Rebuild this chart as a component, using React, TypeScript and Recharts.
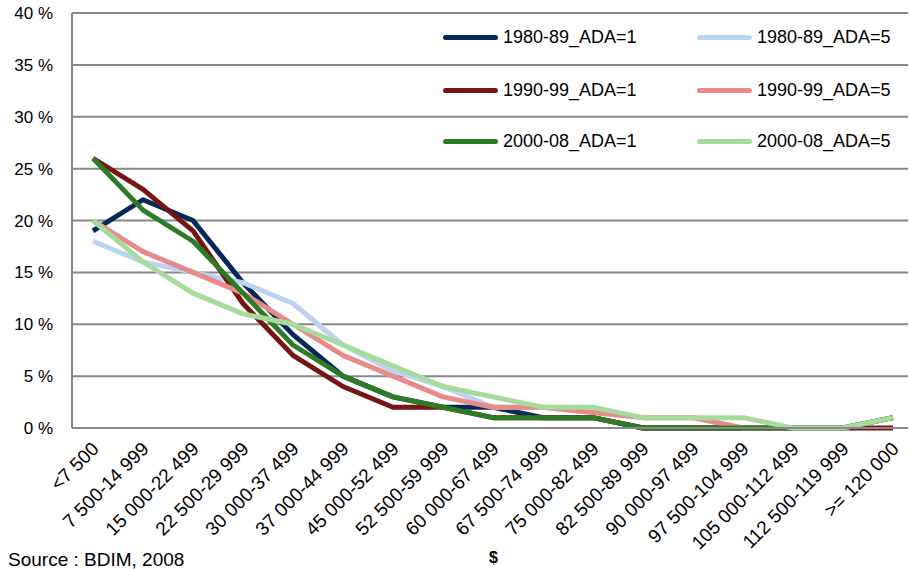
import React from 'react';
import { LineChart, Line, XAxis, YAxis, CartesianGrid, Legend } from 'recharts';

const categories = [
  '<7 500', '7 500-14 999', '15 000-22 499', '22 500-29 999', '30 000-37 499',
  '37 000-44 999', '45 000-52 499', '52 500-59 999', '60 000-67 499', '67 500-74 999',
  '75 000-82 499', '82 500-89 999', '90 000-97 499', '97 500-104 999', '105 000-112 499',
  '112 500-119 999', '>= 120 000',
];

const s1980_1 = [19, 22, 20, 14, 9, 5, 3, 2, 2, 1, 1, 0, 0, 0, 0, 0, 1];
const s1980_5 = [18, 16, 15, 14, 12, 8, 5.5, 4, 2, 2, 1.5, 1, 1, 0, 0, 0, 1];
const s1990_1 = [26, 23, 19, 12, 7, 4, 2, 2, 1, 1, 1, 0, 0, 0, 0, 0, 0];
const s1990_5 = [20, 17, 15, 13, 10, 7, 5, 3, 2, 2, 1.5, 1, 1, 0, 0, 0, 1];
const s2000_1 = [26, 21, 18, 13, 8, 5, 3, 2, 1, 1, 1, 0, 0, 0, 0, 0, 1];
const s2000_5 = [20, 16, 13, 11, 10, 8, 6, 4, 3, 2, 2, 1, 1, 1, 0, 0, 1];

const yTicks = [0, 5, 10, 15, 20, 25, 30, 35, 40];

const seriesNames = ['1980-89_ADA=1', '1980-89_ADA=5', '1990-99_ADA=1', '1990-99_ADA=5', '2000-08_ADA=1', '2000-08_ADA=5'];
const seriesKeys = ['a', 'b', 'c', 'd', 'e', 'f'];
const seriesValues = [s1980_1, s1980_5, s1990_1, s1990_5, s2000_1, s2000_5];
const seriesColors = ['#03295a', '#bdd3f2', '#781413', '#e88a8a', '#2e7b27', '#a5dc9c'];

const data = categories.map((c, i) => {
  const row: any = { name: c };
  seriesKeys.forEach((k, j) => { row[k] = seriesValues[j][i]; });
  return row;
});

const FONT = '"Liberation Sans", Arial, sans-serif';

const XTick = (props: any) => {
  const { x, y, payload } = props;
  return (
    <g transform={`translate(${x + 7},${y + 22})`}>
      <text x={0} y={0} textAnchor="end" transform="rotate(-45)" fontSize={19} fontFamily={FONT} fill="#000">
        {payload.value}
      </text>
    </g>
  );
};

const renderLegend = () => {
  const colX = [443, 697];
  const rowY = [37, 90, 141];
  return (
    <div style={{ position: 'relative', width: 0, height: 0 }}>
      {seriesNames.map((n, i) => {
        const col = i % 2;
        const row = Math.floor(i / 2);
        return (
          <div key={n} style={{ position: 'absolute', left: colX[col], top: rowY[row] - 11, height: 22, display: 'flex', alignItems: 'center', whiteSpace: 'nowrap' }}>
            <div style={{ width: 55, height: 5, borderRadius: 3, background: seriesColors[i] }} />
            <span style={{ marginLeft: 5, fontSize: 18, fontFamily: FONT, color: '#000' }}>{n}</span>
          </div>
        );
      })}
    </div>
  );
};

export default function App() {
  return (
    <div style={{ position: 'absolute', left: 0, top: 0, width: 909, height: 569, background: '#fff', overflow: 'hidden' }}>
      <LineChart width={909} height={569} data={data} margin={{ top: 13, right: 1, left: 0, bottom: 0 }}>
        <CartesianGrid vertical={false} stroke="#888888" strokeWidth={2} />
        <XAxis
          dataKey="name"
          interval={0}
          height={141}
          padding={{ left: 21, right: 15 }}
          tickLine={false}
          tickSize={0}
          tickMargin={0}
          axisLine={{ stroke: '#888888', strokeWidth: 2 }}
          tick={<XTick />}
        />
        <YAxis
          width={72}
          domain={[0, 40]}
          ticks={yTicks}
          interval={0}
          tickLine={false}
          tickSize={0}
          tickMargin={19}
          axisLine={{ stroke: '#888888', strokeWidth: 2 }}
          tickFormatter={(v: number) => `${v} %`}
          tick={{ fontSize: 17, fontFamily: FONT, fill: '#000' }}
        />
        <Legend content={renderLegend} wrapperStyle={{ position: 'absolute', left: 0, top: 0, width: 0, height: 0 }} />
        {seriesKeys.map((k, j) => (
          <Line
            key={k}
            type="linear"
            dataKey={k}
            name={seriesNames[j]}
            stroke={seriesColors[j]}
            strokeWidth={5}
            strokeLinejoin="round"
            dot={false}
            activeDot={false}
            isAnimationActive={false}
          />
        ))}
      </LineChart>
      <div style={{ position: 'absolute', left: 489, top: 549, fontSize: 16, lineHeight: '18px', fontWeight: 'bold', fontFamily: FONT }}>$</div>
      <div style={{ position: 'absolute', left: 8, top: 550, fontSize: 19, lineHeight: '19px', fontFamily: FONT, whiteSpace: 'nowrap' }}>Source : BDIM, 2008</div>
    </div>
  );
}
